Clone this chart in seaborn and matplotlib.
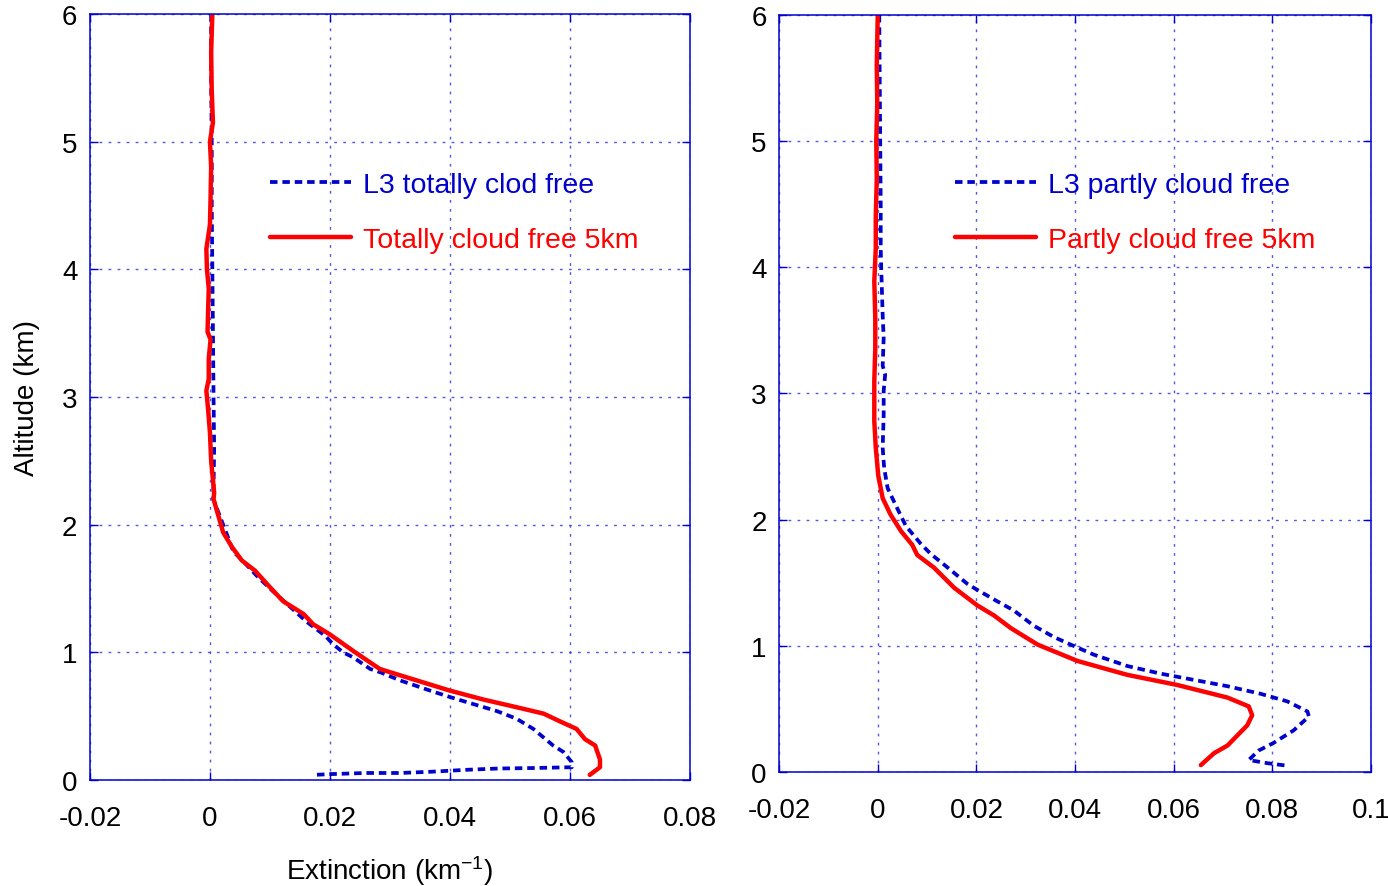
import numpy as np
import pandas as pd
import matplotlib
matplotlib.use("Agg")
import matplotlib.pyplot as plt
import seaborn as sns

# ---- Left panel: totally cloud-free profiles (altitude km, extinction km^-1) ----
l3_total_alt = [6.0, 5.5, 5.0, 4.5, 4.0, 3.5, 3.0, 2.6, 2.3, 2.2, 2.0, 1.79, 1.71, 1.60, 1.50,
                1.38, 1.24, 1.13, 1.06, 1.00, 0.96, 0.87, 0.84, 0.78, 0.70, 0.65, 0.61,
                0.54, 0.48, 0.40, 0.27, 0.22, 0.14, 0.10, 0.094, 0.09, 0.08, 0.065,
                0.055, 0.055, 0.047, 0.04]
l3_total_ext = [0.0002, 0.0002, 0.0003, 0.0003, 0.0004, 0.0005, 0.0006, 0.0007, 0.0006, 0.00055,
                0.0022, 0.0039, 0.0056, 0.0078, 0.0100, 0.0128, 0.0161, 0.0192, 0.0206,
                0.0222, 0.0239, 0.0267, 0.0286, 0.0317, 0.0367, 0.0400, 0.0428, 0.0478,
                0.0511, 0.0539, 0.0572, 0.0589, 0.0603, 0.0603, 0.0540, 0.0480, 0.0428,
                0.0370, 0.0317, 0.0260, 0.0206, 0.0172]

cf5_total_alt = [6.0, 5.7, 5.4, 5.15, 5.0, 4.8, 4.55, 4.35, 4.16, 4.0, 3.85, 3.69, 3.51,
                 3.45, 3.3, 3.14, 3.05, 2.9, 2.72, 2.5, 2.25, 2.2, 2.07, 1.94, 1.83,
                 1.72, 1.64, 1.51, 1.40, 1.30, 1.22, 1.14, 1.01, 0.87, 0.82, 0.70,
                 0.63, 0.57, 0.52, 0.46, 0.40, 0.32, 0.27, 0.16, 0.10, 0.04]
cf5_total_ext = [0.0004, 0.0002, 0.0003, 0.0005, 0.0000, 0.0002, 0.0001, 0.0000, -0.0006,
                 -0.0005, -0.0002, -0.0003, -0.0004, 0.0001, -0.0002, -0.0002, -0.0006,
                 -0.0003, 0.0000, 0.0002, 0.0007, 0.0006, 0.0014, 0.0022, 0.0036,
                 0.0053, 0.0075, 0.0100, 0.0122, 0.0156, 0.0172, 0.0200, 0.0239,
                 0.0283, 0.0317, 0.0400, 0.0456, 0.0511, 0.0556, 0.0583, 0.0611,
                 0.0625, 0.0642, 0.0650, 0.0650, 0.0633]

# ---- Right panel: partly cloud-free profiles ----
l3_partly_alt = [6.0, 5.5, 5.0, 4.5, 4.15, 4.0, 3.62, 3.44, 3.22, 3.15, 3.02, 2.83, 2.57,
                 2.41, 2.25, 2.11, 1.95, 1.81, 1.73, 1.61, 1.49, 1.45, 1.36, 1.28, 1.16,
                 1.07, 1.01, 0.93, 0.84, 0.78, 0.73, 0.68, 0.62, 0.56, 0.48, 0.44,
                 0.33, 0.23, 0.17, 0.095, 0.07, 0.05]
l3_partly_ext = [0.0003, 0.0004, 0.0005, 0.0006, 0.0006, 0.0007, 0.0010, 0.0012, 0.0010,
                 0.0015, 0.0012, 0.0012, 0.0010, 0.0013, 0.0020, 0.0037, 0.0057, 0.0087,
                 0.0107, 0.0145, 0.0182, 0.0199, 0.0239, 0.0276, 0.0316, 0.0357,
                 0.0391, 0.0438, 0.0506, 0.0573, 0.0641, 0.0709, 0.0776, 0.0830,
                 0.0871, 0.0874, 0.0843, 0.0802, 0.0772, 0.0752, 0.0790, 0.0830]

cf5_partly_alt = [6.0, 5.6, 5.3, 5.0, 4.7, 4.4, 4.15, 3.89, 3.6, 3.36, 3.10, 2.78, 2.57,
                  2.35, 2.17, 2.04, 1.91, 1.80, 1.72, 1.62, 1.46, 1.32, 1.24, 1.14,
                  1.01, 0.88, 0.77, 0.69, 0.59, 0.52, 0.45, 0.37, 0.21, 0.15, 0.055]
cf5_partly_ext = [0.0000, -0.0002, -0.0001, -0.0003, -0.0002, -0.0004, -0.0004, -0.0007,
                  -0.0005, -0.0005, -0.0007, -0.0007, -0.0004, 0.0001, 0.0010, 0.0026,
                  0.0047, 0.0070, 0.0080, 0.0114, 0.0155, 0.0202, 0.0236, 0.0270,
                  0.0324, 0.0405, 0.0506, 0.0607, 0.0709, 0.0752, 0.0759, 0.0749,
                  0.0709, 0.0682, 0.0655]

left_xticks = [-0.02, 0, 0.02, 0.04, 0.06, 0.08]
left_xlabels = ["-0.02", "0", "0.02", "0.04", "0.06", "0.08"]
right_xticks = [-0.02, 0, 0.02, 0.04, 0.06, 0.08, 0.1]
right_xlabels = ["-0.02", "0", "0.02", "0.04", "0.06", "0.08", "0.1"]
yticks = [0, 1, 2, 3, 4, 5, 6]

sns.set_theme(style="white")
plt.rcParams["font.family"] = ["Liberation Sans", "DejaVu Sans"]
plt.rcParams["mathtext.fontset"] = "custom"
plt.rcParams["mathtext.rm"] = "Liberation Sans"
plt.rcParams["mathtext.it"] = "Liberation Sans"
plt.rcParams["text.color"] = "black"
plt.rcParams["axes.labelcolor"] = "black"

BLUE = "#0000cc"
RED = "#ff0000"
GRID = "#3a3ad6"

fig = plt.figure(figsize=(13.88, 8.87), dpi=100)
ax1 = fig.add_axes([0.0648, 0.1195, 0.4323, 0.8636])
ax2 = fig.add_axes([0.5613, 0.1285, 0.4265, 0.8535])


def draw_panel(ax, l3_x, l3_y, l3_label, cf_x, cf_y, cf_label, xticks, xlabels, xlim):
    sns.lineplot(x=l3_x, y=l3_y, ax=ax, sort=False, estimator=None, color=BLUE,
                 linewidth=2.7, label=l3_label)
    ax.lines[-1].set_dashes((2.0, 1.3))
    sns.lineplot(x=cf_x, y=cf_y, ax=ax, sort=False, estimator=None, color=RED,
                 linewidth=3.2, label=cf_label)
    ax.set_xlim(*xlim)
    ax.set_ylim(0, 6)
    ax.set_xticks(xticks)
    ax.set_xticklabels(xlabels)
    ax.set_yticks(yticks)
    ax.grid(True, color=GRID, linestyle=(0, (2, 4.5)), linewidth=1.0, alpha=0.85)
    for sp in ax.spines.values():
        sp.set_visible(True)
        sp.set_color(BLUE)
        sp.set_linewidth(1.1)
    ax.tick_params(axis="both", direction="in", length=6, width=1, color=BLUE,
                   top=True, right=True, bottom=True, left=True, labelsize=20,
                   labelcolor="black")
    ax.tick_params(axis="x", pad=18)
    ax.tick_params(axis="y", pad=9)


draw_panel(ax1, l3_total_ext, l3_total_alt, "L3 totally clod free",
           cf5_total_ext, cf5_total_alt, "Totally cloud free 5km",
           left_xticks, left_xlabels, (-0.02, 0.08))
draw_panel(ax2, l3_partly_ext, l3_partly_alt, "L3 partly cloud free",
           cf5_partly_ext, cf5_partly_alt, "Partly cloud free 5km",
           right_xticks, right_xlabels, (-0.02, 0.1))

ax1.set_xlabel("Extinction (km$^{-1}$)", fontsize=20, labelpad=16)
ax1.set_ylabel("Altitude (km)", fontsize=20, labelpad=16)
ax2.set_xlabel("")
ax2.set_ylabel("")

for ax, anchor in ((ax1, (0.300, 0.794)), (ax2, (0.297, 0.793))):
    ax.legend(loc="upper left", bbox_to_anchor=anchor, frameon=False,
              fontsize=20.5, handlelength=2.85, handletextpad=0.42,
              labelspacing=1.03, borderpad=0, borderaxespad=0,
              labelcolor="linecolor")

fig.savefig("out.png", dpi=100)
